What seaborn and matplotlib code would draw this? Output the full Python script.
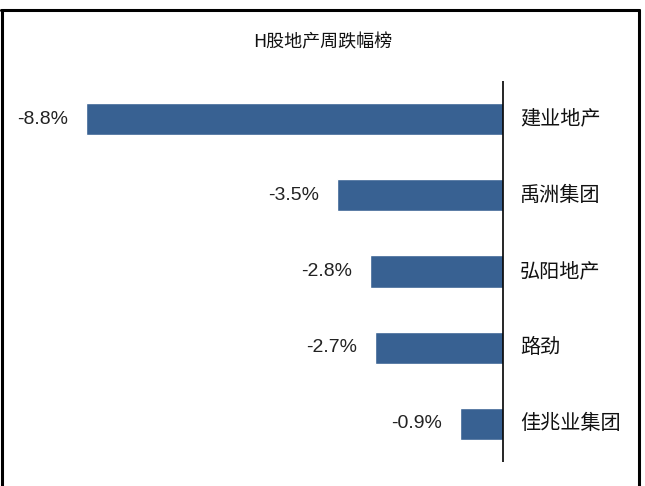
import matplotlib
matplotlib.use('Agg')
import matplotlib.pyplot as plt
import matplotlib.lines as mlines
import seaborn as sns
import pandas as pd

# === 1. Data ===
companies = ['建业地产', '禹洲集团', '弘阳地产', '路劲', '佳兆业集团']
weekly_change = [-8.8, -3.5, -2.8, -2.7, -0.9]
chart_title = 'H股地产周跌幅榜'

df = pd.DataFrame({'Company': companies, 'Change': weekly_change})

sns.set_theme(style='white')
plt.rcParams['font.family'] = ['Noto Sans CJK SC', 'DejaVu Sans']

W, H = 645, 486
fig = plt.figure(figsize=(W / 100, H / 100), dpi=100)
fig.patch.set_facecolor('white')

# axes spans full width; y range matches zero line 81..462 px
ax = fig.add_axes([0, 1 - 462 / H, 1, (462 - 81) / H])
sns.barplot(data=df, x='Change', y='Company', orient='h', color='#386192',
            width=0.42, saturation=1, ax=ax)

px_per_unit = 47.4
zero_px = 503
ax.set_xlim(-zero_px / px_per_unit, (W - zero_px) / px_per_unit)
ax.set_ylim(len(companies) - 0.5, -0.5)
ax.axis('off')

# zero line
ax.axvline(0, color='black', linewidth=1.2)

# === 2. Labels ===
for i, (name, val) in enumerate(zip(companies, weekly_change)):
    ax.text(val - 0.38, i, f'{val:.1f}%', ha='right', va='center',
            fontsize=14, family=['Liberation Sans', 'DejaVu Sans'], color='#222222')
    ax.text(0.36, i, name, ha='left', va='center', fontsize=14.5, color='#111111')

fig.text(323 / W, 1 - 42 / H, chart_title, ha='center', va='center',
         fontsize=13, color='#111111')

# === 3. Frame around chart ===
lw = 2.2
fig.add_artist(mlines.Line2D([1.5 / W, 1.5 / W], [0, 1 - 10 / H], color='black', lw=lw))
fig.add_artist(mlines.Line2D([1 / W, 639 / W], [1 - 10 / H, 1 - 10 / H], color='black', lw=lw))
fig.add_artist(mlines.Line2D([638.5 / W, 638.5 / W], [0, 1 - 10 / H], color='black', lw=lw))

fig.savefig('out.png', dpi=100, facecolor='white')
